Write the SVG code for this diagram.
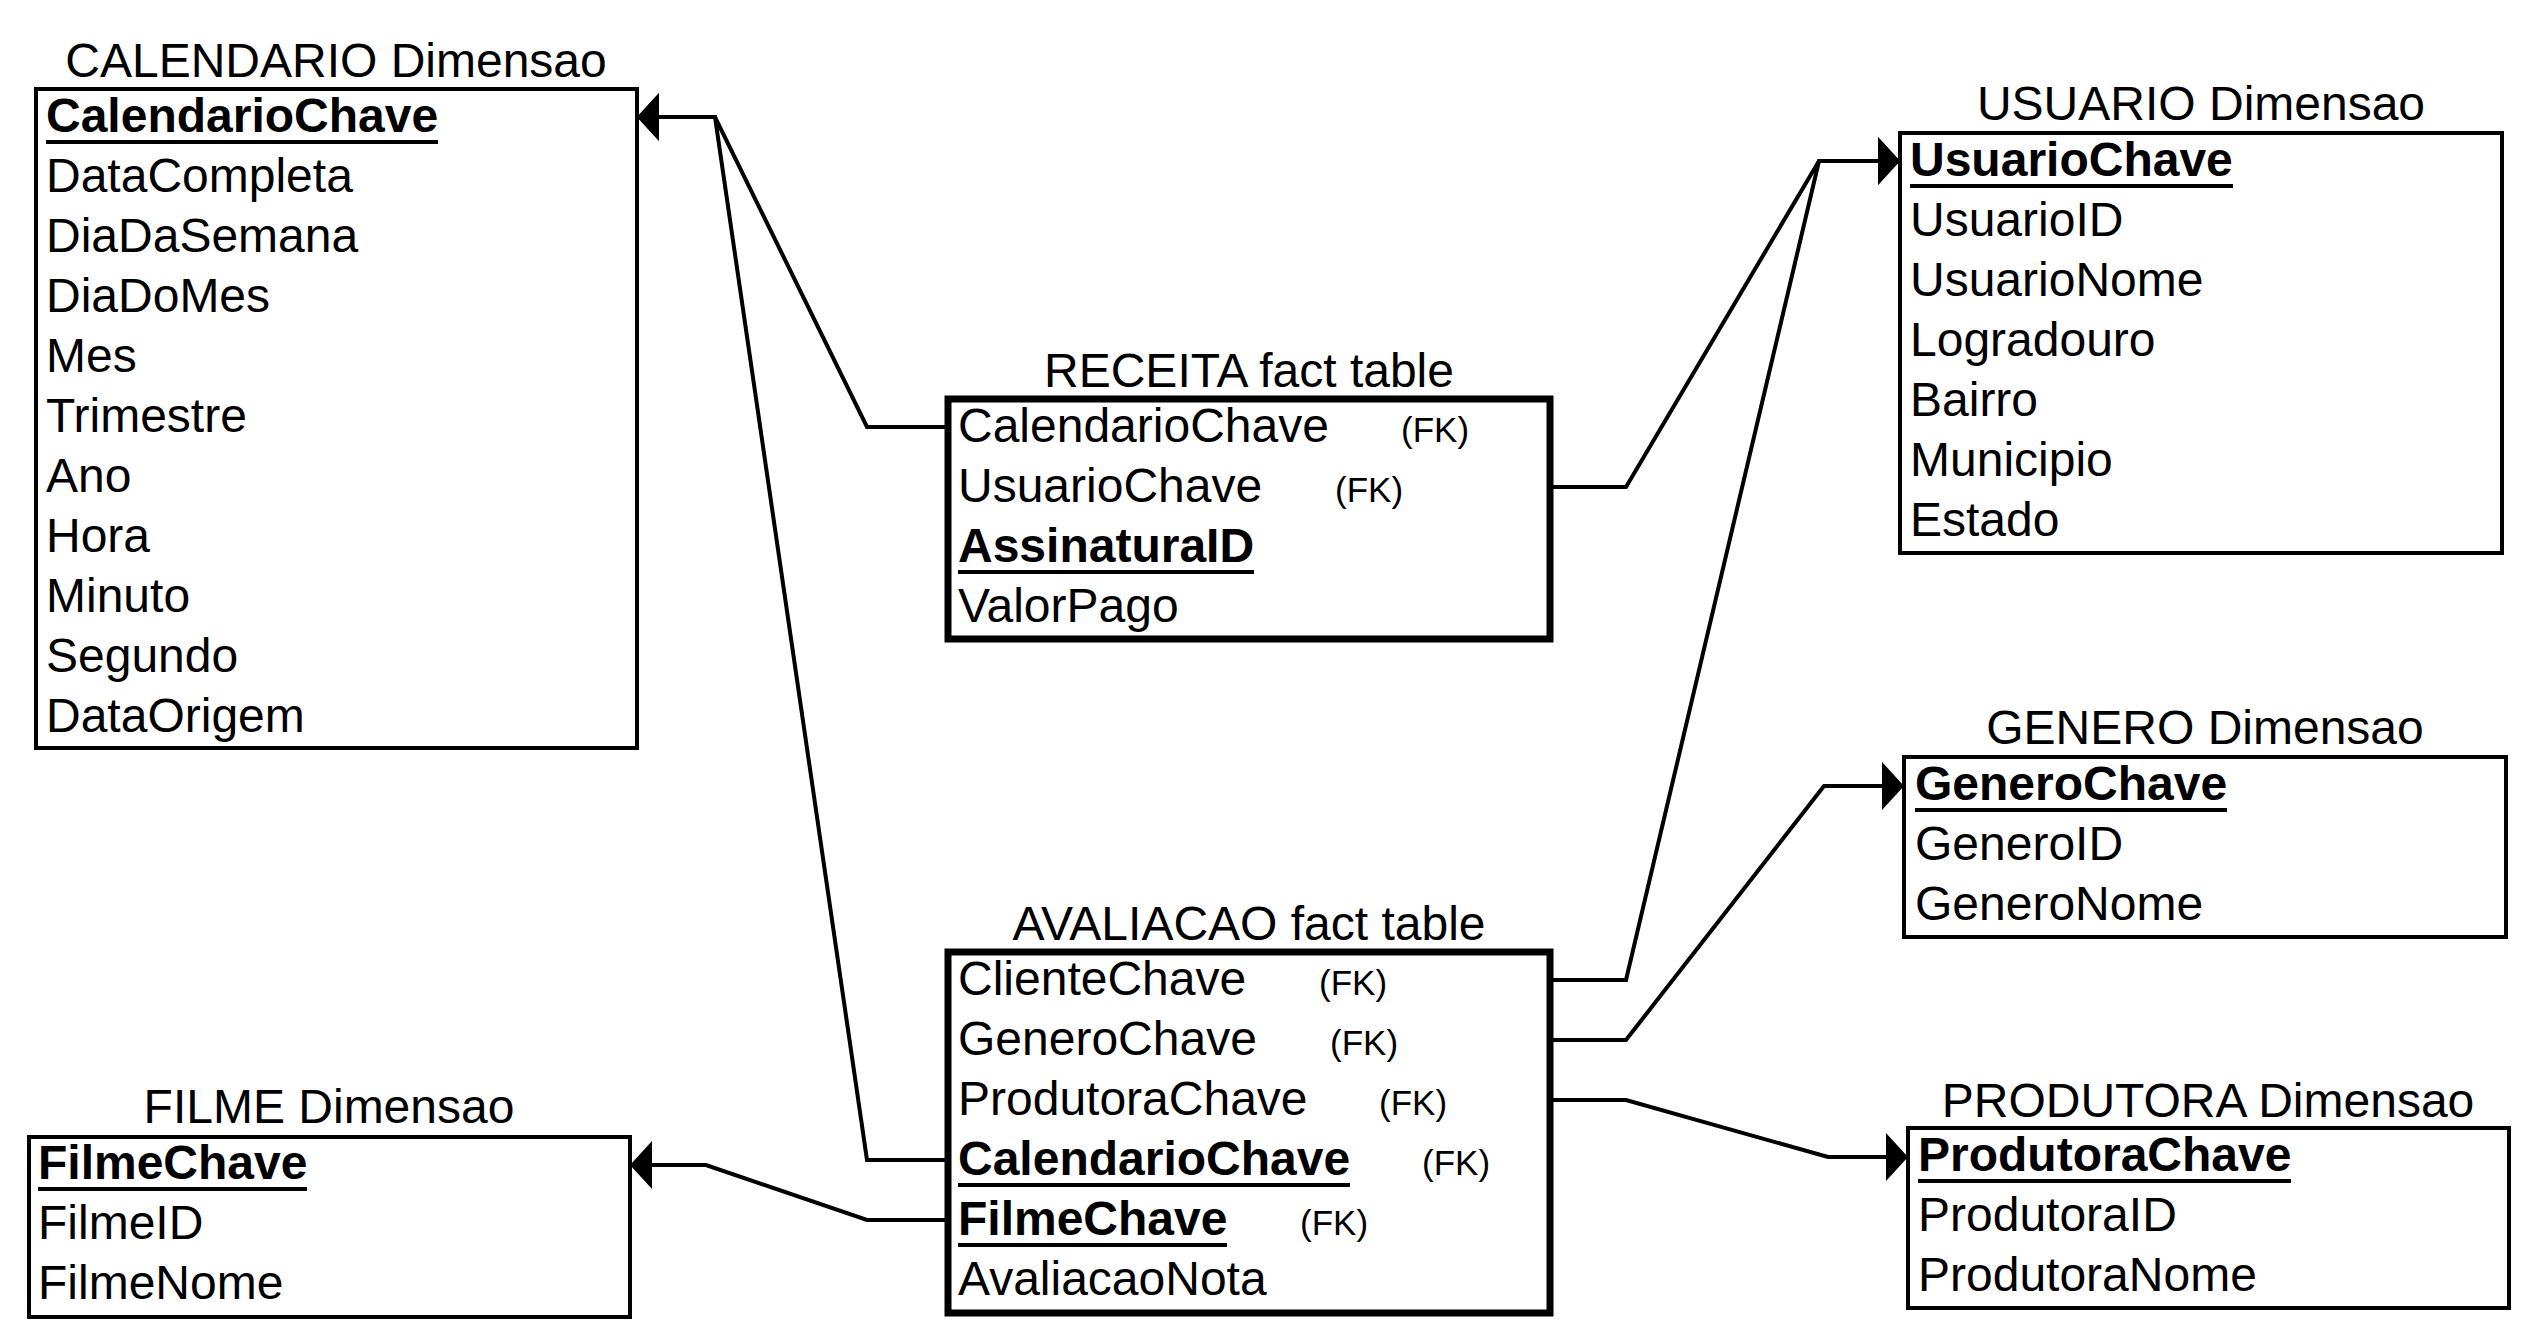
<svg xmlns="http://www.w3.org/2000/svg" width="2536" height="1344" viewBox="0 0 2536 1344">
<style>
text{font-family:"Liberation Sans",Arial,sans-serif;font-size:48px;fill:#000}
.t{text-anchor:middle}
.b{font-weight:bold}
.fk{font-size:35px}
.dim{fill:#fff;stroke:#000;stroke-width:4}
.fact{fill:#fff;stroke:#000;stroke-width:7}
.ul{stroke:#000;stroke-width:4}
.c{fill:none;stroke:#000;stroke-width:4;stroke-linejoin:miter;marker-end:url(#arr)}
</style>
<defs>
<marker id="arr" markerUnits="userSpaceOnUse" viewBox="0 -24 22 48" refX="22" refY="0" markerWidth="22" markerHeight="48" orient="auto">
<path d="M0,-24 L22,0 L0,24 Z" fill="#000"/>
</marker>
</defs>
<rect width="2536" height="1344" fill="#fff"/>

<g id="connectors">
<path class="c" d="M948,427 L867,427 L715,117 L637,117"/>
<path class="c" d="M948,1160 L867,1160 L715,117 L637,117"/>
<path class="c" d="M1550,487 L1626,487 L1819,161 L1900,161"/>
<path class="c" d="M1550,980 L1626,980 L1819,161 L1900,161"/>
<path class="c" d="M1550,1040 L1626,1040 L1824,786 L1904,786"/>
<path class="c" d="M1550,1100 L1626,1100 L1828,1157 L1908,1157"/>
<path class="c" d="M948,1220 L867,1220 L706,1165 L630,1165"/>
</g>

<g id="calendario">
<text class="t" x="336" y="77">CALENDARIO Dimensao</text>
<rect class="dim" x="36" y="89" width="601" height="659"/>
<text class="b" x="46" y="132">CalendarioChave</text>
<line class="ul" x1="46" y1="142" x2="438" y2="142"/>
<text x="46" y="192">DataCompleta</text>
<text x="46" y="252">DiaDaSemana</text>
<text x="46" y="312">DiaDoMes</text>
<text x="46" y="372">Mes</text>
<text x="46" y="432">Trimestre</text>
<text x="46" y="492">Ano</text>
<text x="46" y="552">Hora</text>
<text x="46" y="612">Minuto</text>
<text x="46" y="672">Segundo</text>
<text x="46" y="732">DataOrigem</text>
</g>

<g id="usuario">
<text class="t" x="2201" y="120">USUARIO Dimensao</text>
<rect class="dim" x="1900" y="133" width="602" height="420"/>
<text class="b" x="1910" y="176">UsuarioChave</text>
<line class="ul" x1="1910" y1="186" x2="2233" y2="186"/>
<text x="1910" y="236">UsuarioID</text>
<text x="1910" y="296">UsuarioNome</text>
<text x="1910" y="356">Logradouro</text>
<text x="1910" y="416">Bairro</text>
<text x="1910" y="476">Municipio</text>
<text x="1910" y="536">Estado</text>
</g>

<g id="receita">
<text class="t" x="1249" y="387">RECEITA fact table</text>
<rect class="fact" x="948" y="399" width="602" height="240"/>
<text x="958" y="442">CalendarioChave</text>
<text class="fk" x="1401" y="442">(FK)</text>
<text x="958" y="502">UsuarioChave</text>
<text class="fk" x="1335" y="502">(FK)</text>
<text class="b" x="958" y="562">AssinaturaID</text>
<line class="ul" x1="958" y1="572" x2="1254" y2="572"/>
<text x="958" y="622">ValorPago</text>
</g>

<g id="genero">
<text class="t" x="2205" y="744">GENERO Dimensao</text>
<rect class="dim" x="1904" y="757" width="602" height="180"/>
<text class="b" x="1915" y="800">GeneroChave</text>
<line class="ul" x1="1915" y1="810" x2="2227" y2="810"/>
<text x="1915" y="860">GeneroID</text>
<text x="1915" y="920">GeneroNome</text>
</g>

<g id="avaliacao">
<text class="t" x="1249" y="940">AVALIACAO fact table</text>
<rect class="fact" x="948" y="952" width="602" height="361"/>
<text x="958" y="995">ClienteChave</text>
<text class="fk" x="1319" y="995">(FK)</text>
<text x="958" y="1055">GeneroChave</text>
<text class="fk" x="1330" y="1055">(FK)</text>
<text x="958" y="1115">ProdutoraChave</text>
<text class="fk" x="1379" y="1115">(FK)</text>
<text class="b" x="958" y="1175">CalendarioChave</text>
<line class="ul" x1="958" y1="1185" x2="1350" y2="1185"/>
<text class="fk" x="1422" y="1175">(FK)</text>
<text class="b" x="958" y="1235">FilmeChave</text>
<line class="ul" x1="958" y1="1245" x2="1227" y2="1245"/>
<text class="fk" x="1300" y="1235">(FK)</text>
<text x="958" y="1295">AvaliacaoNota</text>
</g>

<g id="produtora">
<text class="t" x="2208" y="1117">PRODUTORA Dimensao</text>
<rect class="dim" x="1908" y="1128" width="601" height="180"/>
<text class="b" x="1918" y="1171">ProdutoraChave</text>
<line class="ul" x1="1918" y1="1181" x2="2291" y2="1181"/>
<text x="1918" y="1231">ProdutoraID</text>
<text x="1918" y="1291">ProdutoraNome</text>
</g>

<g id="filme">
<text class="t" x="329" y="1123">FILME Dimensao</text>
<rect class="dim" x="29" y="1137" width="601" height="180"/>
<text class="b" x="38" y="1179">FilmeChave</text>
<line class="ul" x1="38" y1="1189" x2="307" y2="1189"/>
<text x="38" y="1239">FilmeID</text>
<text x="38" y="1299">FilmeNome</text>
</g>
</svg>
